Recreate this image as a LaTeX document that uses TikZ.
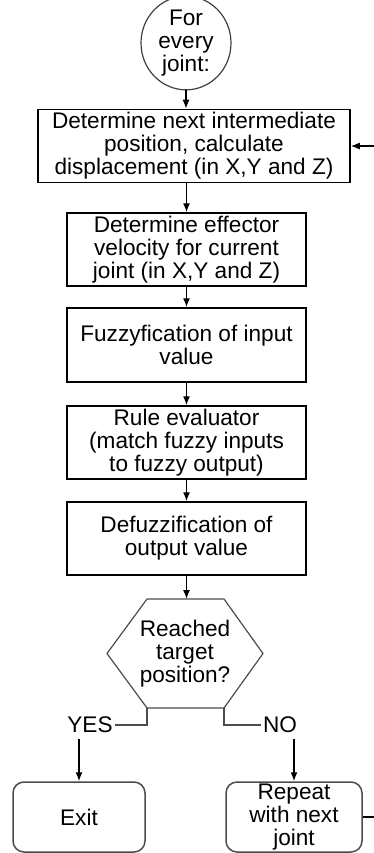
\documentclass[tikz,border=0pt]{standalone}
\usepackage{fontspec}
\setmainfont{Liberation Sans}
\usetikzlibrary{shapes.geometric,arrows.meta}
\begin{document}
\begin{tikzpicture}[x=1pt,y=-1pt,
    font=\fontsize{22.6}{23}\selectfont,
    box/.style = {draw, line width=1.5pt, rectangle, align=center, inner sep=0pt, minimum width=239pt, minimum height=73pt},
    term/.style = {draw=black!70, line width=1.5pt, rounded corners=11pt, align=center, inner sep=0pt, minimum height=70pt},
    lbl/.style = {inner sep=2pt},
    line/.style = {line width=1.3pt},
    >={Latex[length=9pt,width=7pt]}]
    \useasboundingbox (0,0) rectangle (374,853);
    \node[draw=black!75, line width=1.2pt, ellipse, align=center, inner sep=0pt, minimum width=90pt, minimum height=74pt] (start) at (186,43) {For\\every\\joint:};
    \node[box, minimum width=312pt] (b1) at (194,146) {Determine next intermediate\\position, calculate\\displacement (in X,Y and Z)};
    \node[box] (b2) at (186.5,249.5) {Determine effector\\velocity for current\\joint (in X,Y and Z)};
    \node[box, minimum height=74pt] (b3) at (186.5,345) {Fuzzyfication of input\\value};
    \node[box] (b4) at (186.5,442.5) {Rule evaluator\\(match fuzzy inputs\\to fuzzy output)};
    \node[box] (b5) at (186.5,538.5) {Defuzzification of\\output value};
    \node[align=center, inner sep=0pt] (dec) at (185,653.5) {Reached\\target\\position?};
    \draw[draw=black!70, line width=1.2pt] (147,599) coordinate (ht) -- (224,599) -- (263,653.5) -- (224,708) coordinate (hr) -- (147,708) coordinate (hl) -- (107,653.5) -- cycle;
    \node[lbl] (yes) at (90,725) {YES};
    \node[lbl] (no) at (280,725) {NO};
    \node[term, minimum width=132pt] (exit) at (79,817) {Exit};
    \node[term, minimum width=136pt] (rep) at (294,817) {Repeat\\with next\\joint};
    \coordinate (ys) at (79,739);
    \coordinate (ns) at (294,739);
    \coordinate (lp1) at (374,817);
    \coordinate (lp2) at (374,146);
    \draw[line,->] (start) -- (start.south |- b1.north);
    \draw[line,->] (b2.north |- b1.south) -- (b2);
    \draw[line,->] (b2) -- (b3);
    \draw[line,->] (b3) -- (b4);
    \draw[line,->] (b4) -- (b5);
    \draw[line,->] (b5.south) -- (b5.south |- ht);
    \draw[line,black!70] (hl) |- (yes);
    \draw[line,black!70] (hr) |- (no);
    \draw[line,->] (ys) -- (exit.north);
    \draw[line,->] (ns) -- (rep.north);
    \draw[line] (rep) -- (lp1);
    \draw[line,->] (lp2) -- (b1);
\end{tikzpicture}
\end{document}
